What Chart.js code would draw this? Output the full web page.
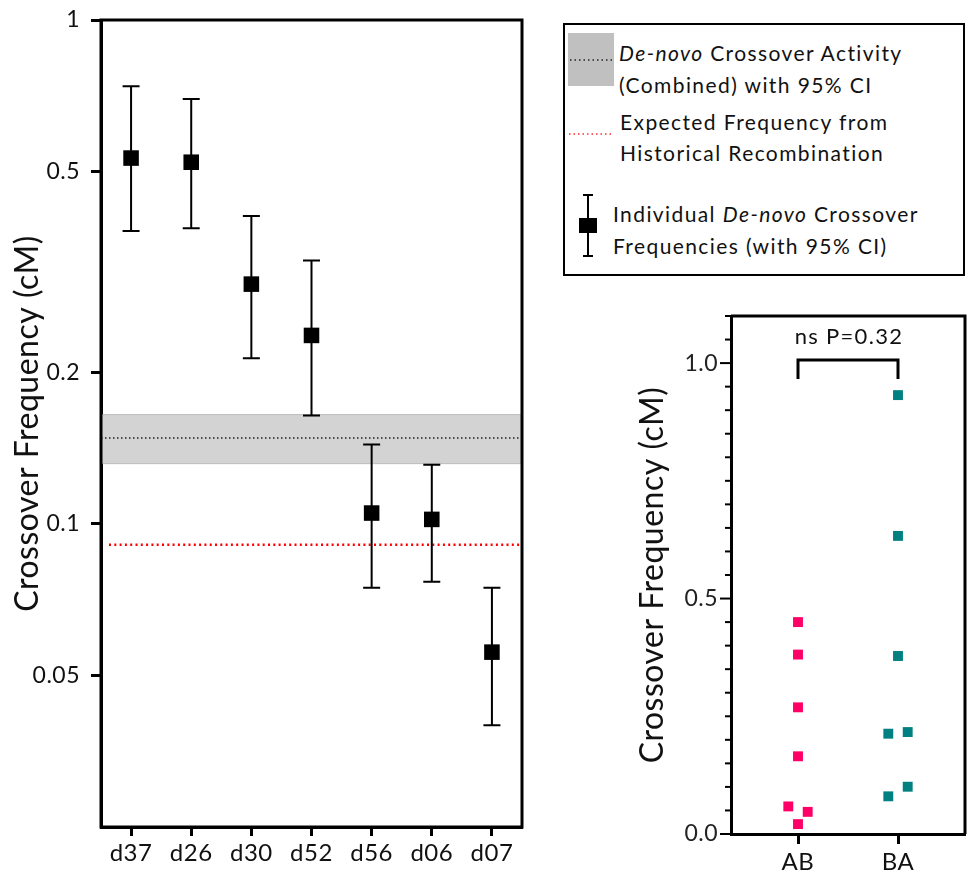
<!doctype html>
<html lang="en">
<head>
<meta charset="UTF-8">
<title>Crossover frequency</title>
<script src="https://cdn.jsdelivr.net/npm/chart.js@4.4.1/dist/chart.umd.min.js"></script>
<style>
    html, body { margin: 0; padding: 0; background: #fff; overflow: hidden; width: 968px; height: 874px; }
    body { position: relative; font-family: Lato, "Noto Sans", sans-serif; color: #111; }
    #left { position: absolute; left: 0; top: 0; }
    #right { position: absolute; left: 600px; top: 290px; }
    #legend { position: absolute; left: 563px; top: 23px; width: 402px; height: 253px; border: 2px solid #000; box-sizing: border-box; }
    #legendMarks { position: absolute; left: 560px; top: 20px; }
    .lg { position: absolute; font-size: 21px; letter-spacing: 1.4px; white-space: nowrap; }
</style>
</head>
<body>
<canvas id="left" width="540" height="874"></canvas>
<canvas id="right" width="372" height="584"></canvas>
<div id="legend"></div>
<svg id="legendMarks" width="70" height="250">
    <rect x="8" y="13" width="46" height="53" fill="#c0c0c0"></rect>
    <line x1="10" y1="40" x2="54" y2="40" stroke="#222" stroke-width="1.5" stroke-dasharray="1.5 3"></line>
    <line x1="9" y1="114" x2="53" y2="114" stroke="#ff2a2a" stroke-width="1.5" stroke-dasharray="1.5 3"></line>
    <line x1="28" y1="175" x2="28" y2="236" stroke="#000" stroke-width="2"></line>
    <line x1="23" y1="175" x2="33" y2="175" stroke="#000" stroke-width="2"></line>
    <line x1="23" y1="236" x2="33" y2="236" stroke="#000" stroke-width="2"></line>
    <rect x="19" y="198" width="18" height="15" fill="#000"></rect>
</svg>
<div class="lg" style="left:619px; top:37px; line-height:32px;"><i>De-novo</i> Crossover Activity<br>(Combined) with 95% CI</div>
<div class="lg" style="left:620px; top:106px; line-height:31px;">Expected Frequency from<br>Historical Recombination</div>
<div class="lg" style="left:613px; top:198px; line-height:32px;">Individual <i>De-novo</i> Crossover<br>Frequencies (with 95% CI)</div>
<script>
    // individual crossover frequencies (cM) with 95% CI
    var donors = ['d37', 'd26', 'd30', 'd52', 'd56', 'd06', 'd07'];
    var freq = [0.532, 0.522, 0.299, 0.2365, 0.105, 0.102, 0.0556];
    var ciLow = [0.381, 0.386, 0.213, 0.164, 0.0746, 0.0767, 0.0398];
    var ciHigh = [0.739, 0.697, 0.408, 0.333, 0.1436, 0.131, 0.0746];
    var logTicks = [0.05, 0.1, 0.2, 0.5, 1];

    // combined activity, its CI and the historical expectation
    var combined = 0.148;
    var combinedLow = 0.1316;
    var combinedHigh = 0.1647;
    var expected = 0.0908;

    // AB vs BA comparison
    var groups = ['AB', 'BA'];
    var abValues = [0.45, 0.381, 0.269, 0.165, 0.0586, 0.047, 0.021];
    var baValues = [0.932, 0.633, 0.378, 0.213, 0.2165, 0.080, 0.1004];
    var pLabel = 'ns P=0.32';

    var swarmStep = 0.097;
    var swarmGap = 0.03;

    Chart.defaults.font.family = 'Lato';
    Chart.defaults.color = '#111';

    // spread near-equal values sideways like a beeswarm
    var swarm = function (values, center) {
        var sorted = values.slice().sort(function (a, b) { return a - b; });
        var pts = [], cluster = [];
        var flush = function () {
            var offs = cluster.length % 2 ? [0, 1, -1, 2, -2] : [-1, 1, -2, 2];
            cluster.forEach(function (v, k) {
                pts.push({x: center + offs[k] * swarmStep, y: v});
            });
            cluster = [];
        };
        sorted.forEach(function (v) {
            if (cluster.length && v - cluster[cluster.length - 1] >= swarmGap) flush();
            cluster.push(v);
        });
        flush();
        return pts;
    };

    // slightly wider lettering, closer to the original typeface
    var spacing = {
        id: 'spacing',
        beforeUpdate: function (chart) { chart.ctx.letterSpacing = '0.5px'; }
    };

    var leftDecor = {
        id: 'leftDecor',
        beforeDatasetsDraw: function (chart) {
            var ctx = chart.ctx, a = chart.chartArea, y = chart.scales.y;
            ctx.save();
            var top = y.getPixelForValue(combinedHigh), bot = y.getPixelForValue(combinedLow);
            ctx.fillStyle = '#d3d3d3';
            ctx.fillRect(a.left, top, a.right - a.left, bot - top);
            ctx.strokeStyle = '#bdbdbd';
            ctx.lineWidth = 1;
            ctx.beginPath();
            ctx.moveTo(a.left, top); ctx.lineTo(a.right, top);
            ctx.moveTo(a.left, bot); ctx.lineTo(a.right, bot);
            ctx.stroke();

            ctx.setLineDash([1.5, 2.5]);
            ctx.strokeStyle = '#222';
            ctx.lineWidth = 1.5;
            var yc = y.getPixelForValue(combined);
            ctx.beginPath(); ctx.moveTo(a.left, yc); ctx.lineTo(a.right, yc); ctx.stroke();

            ctx.setLineDash([2, 3.3]);
            ctx.strokeStyle = '#ff0000';
            ctx.lineWidth = 2.5;
            var ye = y.getPixelForValue(expected);
            ctx.beginPath(); ctx.moveTo(a.left + 8, ye); ctx.lineTo(a.right, ye); ctx.stroke();

            ctx.setLineDash([]);
            ctx.strokeStyle = '#000';
            ctx.lineWidth = 2;
            chart.getDatasetMeta(0).data.forEach(function (pt, i) {
                var yh = y.getPixelForValue(ciHigh[i]), yl = y.getPixelForValue(ciLow[i]);
                ctx.beginPath();
                ctx.moveTo(pt.x, yh); ctx.lineTo(pt.x, yl);
                ctx.moveTo(pt.x - 8.5, yh); ctx.lineTo(pt.x + 8.5, yh);
                ctx.moveTo(pt.x - 8.5, yl); ctx.lineTo(pt.x + 8.5, yl);
                ctx.stroke();
            });
            ctx.restore();
        },
        afterDraw: function (chart) {
            var ctx = chart.ctx, a = chart.chartArea;
            ctx.save();
            ctx.strokeStyle = '#000';
            ctx.lineWidth = 3;
            ctx.strokeRect(a.left, a.top, a.right - a.left, a.bottom - a.top);
            ctx.restore();
        }
    };

    new Chart(document.getElementById('left'), {
        type: 'line',
        data: {
            labels: donors,
            datasets: [{
                data: freq,
                showLine: false,
                pointStyle: 'rect',
                pointRadius: 11,
                backgroundColor: '#000',
                borderColor: '#000',
                borderWidth: 0
            }]
        },
        options: {
            responsive: false,
            animation: false,
            events: [],
            layout: {padding: {top: 20, right: 18, bottom: 0, left: 0}},
            plugins: {legend: {display: false}, tooltip: {enabled: false}},
            scales: {
                x: {
                    type: 'category',
                    offset: true,
                    grid: {drawOnChartArea: false, tickLength: 9, tickWidth: 3, tickColor: '#000'},
                    border: {color: '#000', width: 3},
                    ticks: {font: {size: 24}, color: '#111', padding: 3, maxRotation: 0},
                    afterFit: function (s) { s.height = 47; }
                },
                y: {
                    type: 'logarithmic',
                    min: 0.025,
                    max: 1,
                    afterBuildTicks: function (s) {
                        s.ticks = logTicks.map(function (v) { return {value: v}; });
                    },
                    grid: {drawOnChartArea: false, tickLength: 10, tickWidth: 3, tickColor: '#000'},
                    border: {color: '#000', width: 3},
                    ticks: {
                        font: {size: 23}, color: '#111', padding: 11,
                        callback: function (v) { return String(v); }
                    },
                    title: {
                        display: true,
                        text: 'Crossover Frequency (cM)',
                        font: {size: 32},
                        color: '#111',
                        padding: {top: 8, bottom: 0}
                    },
                    afterFit: function (s) {
                        s.width = 101;
                        s.paddingTop = 0;
                        s.paddingBottom = 0;
                    }
                }
            }
        },
        plugins: [spacing, leftDecor]
    });

    var rightDecor = {
        id: 'rightDecor',
        afterDraw: function (chart) {
            var ctx = chart.ctx, a = chart.chartArea, x = chart.scales.x, y = chart.scales.y;
            ctx.save();
            ctx.strokeStyle = '#000';
            ctx.lineWidth = 3;
            ctx.beginPath();
            ctx.moveTo(a.left, a.top); ctx.lineTo(a.right, a.top); ctx.lineTo(a.right, a.bottom);
            ctx.stroke();

            // minor / major tick marks on y
            ctx.lineWidth = 2;
            y.ticks.forEach(function (t) {
                var py = y.getPixelForValue(t.value);
                var len = t.label ? 11 : 6;
                ctx.beginPath(); ctx.moveTo(a.left - len, py); ctx.lineTo(a.left, py); ctx.stroke();
            });

            // significance bracket
            var x1 = x.getPixelForValue(1), x2 = x.getPixelForValue(2);
            var yb = y.getPixelForValue(1) - 3;
            ctx.lineWidth = 3;
            ctx.beginPath();
            ctx.moveTo(x1, yb + 19); ctx.lineTo(x1, yb); ctx.lineTo(x2, yb); ctx.lineTo(x2, yb + 19);
            ctx.stroke();
            ctx.fillStyle = '#111';
            ctx.font = '22px Lato';
            ctx.letterSpacing = '1.3px';
            ctx.textAlign = 'center';
            ctx.textBaseline = 'middle';
            ctx.fillText(pLabel, (x1 + x2) / 2 + 1, yb - 23);
            ctx.restore();
        }
    };

    new Chart(document.getElementById('right'), {
        type: 'scatter',
        data: {
            datasets: [{
                label: groups[0],
                data: swarm(abValues, 1),
                pointStyle: 'rect',
                pointRadius: 7,
                borderWidth: 0,
                backgroundColor: '#ff0066'
            }, {
                label: groups[1],
                data: swarm(baValues, 2),
                pointStyle: 'rect',
                pointRadius: 7,
                borderWidth: 0,
                backgroundColor: '#008080'
            }]
        },
        options: {
            responsive: false,
            animation: false,
            events: [],
            layout: {padding: {top: 26, right: 0, bottom: 0, left: 0}},
            plugins: {legend: {display: false}, tooltip: {enabled: false}},
            scales: {
                x: {
                    type: 'linear',
                    min: 0.33,
                    max: 2.67,
                    afterBuildTicks: function (s) {
                        s.ticks = groups.map(function (g, i) { return {value: i + 1}; });
                    },
                    grid: {drawOnChartArea: false, tickLength: 10, tickWidth: 3, tickColor: '#000'},
                    border: {color: '#000', width: 3},
                    ticks: {
                        font: {size: 24}, color: '#111', padding: 4,
                        callback: function (v, i) { return groups[i]; }
                    },
                    afterFit: function (s) { s.height = 40; }
                },
                y: {
                    min: 0,
                    max: 1.1,
                    grid: {drawOnChartArea: false, drawTicks: false},
                    border: {color: '#000', width: 3},
                    ticks: {
                        stepSize: 0.05,
                        autoSkip: false,
                        font: {size: 23}, color: '#222', padding: 13,
                        callback: function (v) {
                            return Math.abs(v * 2 - Math.round(v * 2)) < 1e-6 ? v.toFixed(1) : '';
                        }
                    },
                    title: {
                        display: true,
                        text: 'Crossover Frequency (cM)',
                        font: {size: 32},
                        color: '#111',
                        padding: {top: 33, bottom: 0}
                    },
                    afterFit: function (s) {
                        s.width = 131;
                        s.paddingTop = 0;
                        s.paddingBottom = 0;
                    }
                }
            }
        },
        plugins: [spacing, rightDecor]
    });
</script>
</body>
</html>
